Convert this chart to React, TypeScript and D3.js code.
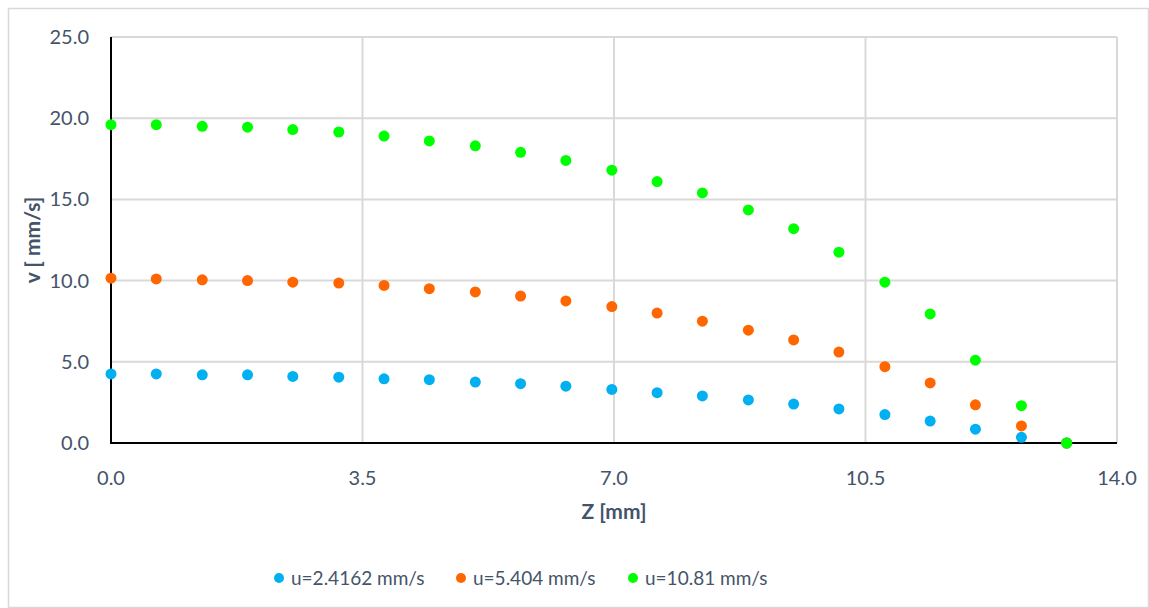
import * as d3 from "d3";

const zValues = [0, 0.63, 1.27, 1.9, 2.53, 3.17, 3.8, 4.43, 5.07, 5.7, 6.33, 6.97, 7.6, 8.23, 8.87, 9.5, 10.13, 10.77, 11.4, 12.03, 12.67, 13.3];

const vSlow = [4.25, 4.25, 4.2, 4.2, 4.1, 4.05, 3.95, 3.9, 3.75, 3.65, 3.5, 3.3, 3.1, 2.9, 2.65, 2.4, 2.1, 1.75, 1.35, 0.85, 0.35, 0];
const vMid = [10.15, 10.1, 10.05, 10.0, 9.9, 9.85, 9.7, 9.5, 9.3, 9.05, 8.75, 8.4, 8.0, 7.5, 6.95, 6.35, 5.6, 4.7, 3.7, 2.35, 1.05, 0];
const vFast = [19.6, 19.6, 19.5, 19.45, 19.3, 19.15, 18.9, 18.6, 18.3, 17.9, 17.4, 16.8, 16.1, 15.4, 14.35, 13.2, 11.75, 9.9, 7.95, 5.1, 2.3, 0];

const seriesNames = ["u=2.4162 mm/s", "u=5.404 mm/s", "u=10.81 mm/s"];
const seriesColors = ["#00b0f0", "#ff6600", "#00ff00"];
const seriesValues = [vSlow, vMid, vFast];

const xTicks = [0, 3.5, 7, 10.5, 14];
const yTicks = [0, 5, 10, 15, 20, 25];

const W = 1149;
const H = 608;
const FONT = "Lato, 'Open Sans', sans-serif";
const TEXT = "#44546a";
const GRID = "#d9d9d9";

export default function App() {
  const x = d3.scaleLinear().domain([0, 14]).range([111, 1117]);
  const y = d3.scaleLinear().domain([0, 25]).range([443, 37]);
  const legendX = [279, 461, 633];

  return (
    <svg width={W} height={H} style={{ position: "absolute", left: 0, top: 0 }}>
      <rect x={0} y={0} width={W} height={H} fill="#fff" />
      <rect x={8.5} y={8.5} width={W - 9} height={H - 9} fill="none" stroke={GRID} strokeWidth={1.5} />
      {yTicks.map((t) => (
        <line key={"gy" + t} x1={x(0)} x2={x(14)} y1={y(t)} y2={y(t)} stroke={GRID} strokeWidth={2} />
      ))}
      {xTicks.map((t) => (
        <line key={"gx" + t} x1={x(t)} x2={x(t)} y1={y(0)} y2={y(25)} stroke={GRID} strokeWidth={2} />
      ))}
      <line x1={x(0)} x2={x(0)} y1={y(0) + 1} y2={y(25)} stroke="#000" strokeWidth={2} />
      <line x1={x(0)} x2={x(14)} y1={y(0)} y2={y(0)} stroke="#000" strokeWidth={2} />
      {yTicks.map((t) => (
        <text key={"ty" + t} x={89} y={y(t)} dy="0.35em" textAnchor="end" fontFamily={FONT} fontSize={20} fill={TEXT}>
          {t.toFixed(1)}
        </text>
      ))}
      {xTicks.map((t) => (
        <text key={"tx" + t} x={x(t)} y={478} dy="0.35em" textAnchor="middle" fontFamily={FONT} fontSize={20} fill={TEXT}>
          {t.toFixed(1)}
        </text>
      ))}
      <text x={x(7)} y={512} dy="0.35em" textAnchor="middle" fontFamily={FONT} fontSize={21} fontWeight="bold" fill={TEXT}>
        Z [mm]
      </text>
      <text
        transform={`translate(33,${y(12.5)}) rotate(-90)`}
        dy="0.35em"
        textAnchor="middle"
        fontFamily={FONT}
        fontSize={21}
        fontWeight="bold"
        fill={TEXT}
      >
        v [ mm/s]
      </text>
      {seriesValues.map((vals, si) =>
        vals.map((v, i) => (
          <circle key={`p${si}-${i}`} cx={x(zValues[i])} cy={y(v)} r={5.5} fill={seriesColors[si]} />
        ))
      )}
      {seriesNames.map((n, i) => (
        <g key={"l" + i}>
          <circle cx={legendX[i]} cy={578} r={5} fill={seriesColors[i]} />
          <text x={legendX[i] + 12} y={578} dy="0.35em" fontFamily={FONT} fontSize={19} fill={TEXT}>
            {n}
          </text>
        </g>
      ))}
    </svg>
  );
}
